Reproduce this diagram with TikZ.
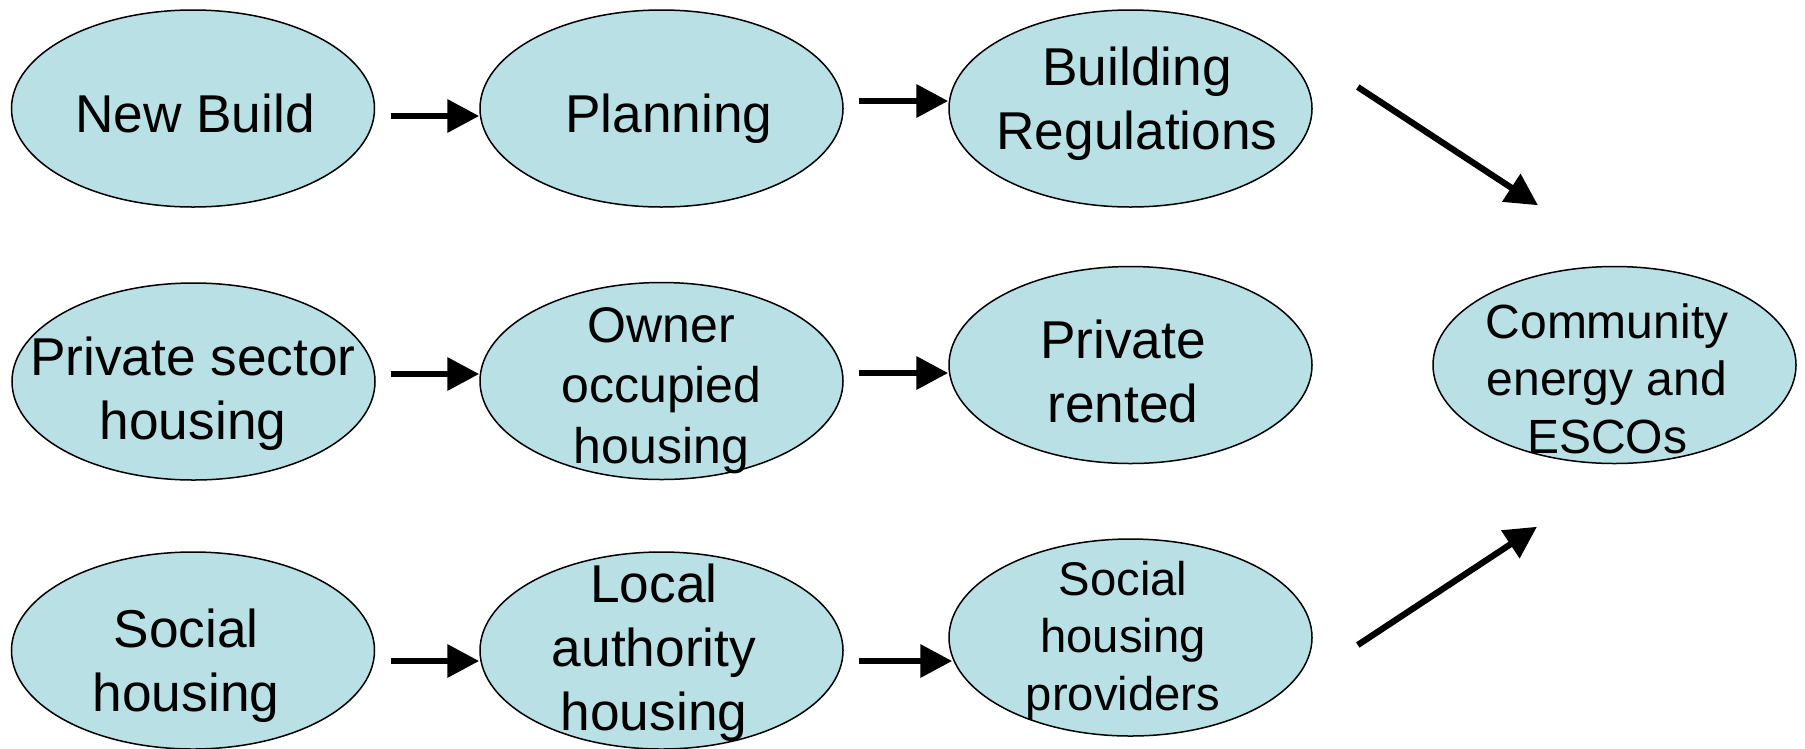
\documentclass[tikz,border=0pt]{standalone}
\usepackage{fontspec}
\setmainfont{Liberation Sans}
\usetikzlibrary{shapes.geometric,arrows.meta}
\definecolor{ovalfill}{RGB}{185,224,228}
\newcommand\mlines[1]{\begin{tabular}[t]{@{}c@{}}#1\end{tabular}}
\begin{document}
\begin{tikzpicture}[x=0.4pt,y=0.4pt,
  oval/.style={ellipse,draw=black,fill=ovalfill,line width=0.6pt,
    minimum width=145.2pt,minimum height=78.8pt,inner sep=0pt},
  lbl/.style={anchor=base,inner sep=0pt,font=\fontsize{21.3pt}{25.6pt}\selectfont},
  lblowner/.style={anchor=base,inner sep=0pt,font=\fontsize{20pt}{24.2pt}\selectfont},
  lblcomm/.style={anchor=base,inner sep=0pt,font=\fontsize{19.2pt}{23pt}\selectfont},
  lblsmall/.style={anchor=base,inner sep=0pt,font=\fontsize{18.9pt}{23pt}\selectfont},
  arr/.style={line width=2.7pt,-{Triangle[length=12.8pt,width=12.8pt]}},
  diag/.style={line width=2.5pt,-{Triangle[length=12.8pt,width=12.8pt]}}]
\useasboundingbox (0,0) rectangle (1805,-748);

% ovals
\node[oval] (nb) at (193,-108.5) {};
\node[oval] (pl) at (661.5,-108.5) {};
\node[oval] (br) at (1130.5,-108.5) {};
\node[oval] (ps) at (193.5,-381.5) {};
\node[oval] (oo) at (661.5,-381) {};
\node[oval] (pr) at (1130.5,-365) {};
\node[oval] (ce) at (1614.5,-365) {};
\node[oval] (sh) at (193,-650.5) {};
\node[oval] (la) at (661.5,-650.5) {};
\node[oval] (sp) at (1130.5,-637.5) {};

% texts
\node[lbl] (nbt) at (195,-132) {\mlines{New Build}};
\node[lbl] (plt) at (669,-132) {\mlines{Planning}};
\node[lbl] (brt) at (1137,-85) {\mlines{Building\\Regulations}};
\node[lbl] (pst) at (193,-375) {\mlines{Private sector\\housing}};
\node[lblowner] (oot) at (661.5,-342) {\mlines{Owner\\occupied\\housing}};
\node[lbl] (prt) at (1123,-358) {\mlines{Private\\rented}};
\node[lblcomm] (cet) at (1607,-338) {\mlines{Community\\energy and\\ESCOs}};
\node[lbl] (sht) at (186,-647) {\mlines{Social\\housing}};
\node[lbl] (lat) at (654,-602) {\mlines{Local\\authority\\housing}};
\node[lblsmall] (spt) at (1123,-595) {\mlines{Social\\housing\\providers}};

% horizontal arrows
\draw[arr] ([shift={(15.5,-7.5)}]nb.east) -- ([shift={(0,-7.5)}]pl.west);
\draw[arr] ([shift={(15.5,7.5)}]pl.east) -- ([shift={(0,7.5)}]br.west);
\draw[arr] ([shift={(15,7.5)}]ps.east) -- ([shift={(0,7)}]oo.west);
\draw[arr] ([shift={(15,8)}]oo.east) -- ([shift={(0,-8)}]pr.west);
\draw[arr] ([shift={(15.5,-10.5)}]sh.east) -- ([shift={(0,-10.5)}]la.west);
\draw[arr] ([shift={(15,-10.5)}]la.east) -- ([shift={(4,-23.5)}]sp.west);

% diagonal arrows
\coordinate (d1s) at ([shift={(45,21.5)}]br.east);
\coordinate (d1e) at ([shift={(-76.5,60.5)}]ce.north);
\coordinate (d2s) at ([shift={(45,-7.5)}]sp.east);
\coordinate (d2e) at ([shift={(-77.5,-62.5)}]ce.south);
\draw[diag] (d1s) -- (d1e);
\draw[diag] (d2s) -- (d2e);
\end{tikzpicture}
\end{document}
